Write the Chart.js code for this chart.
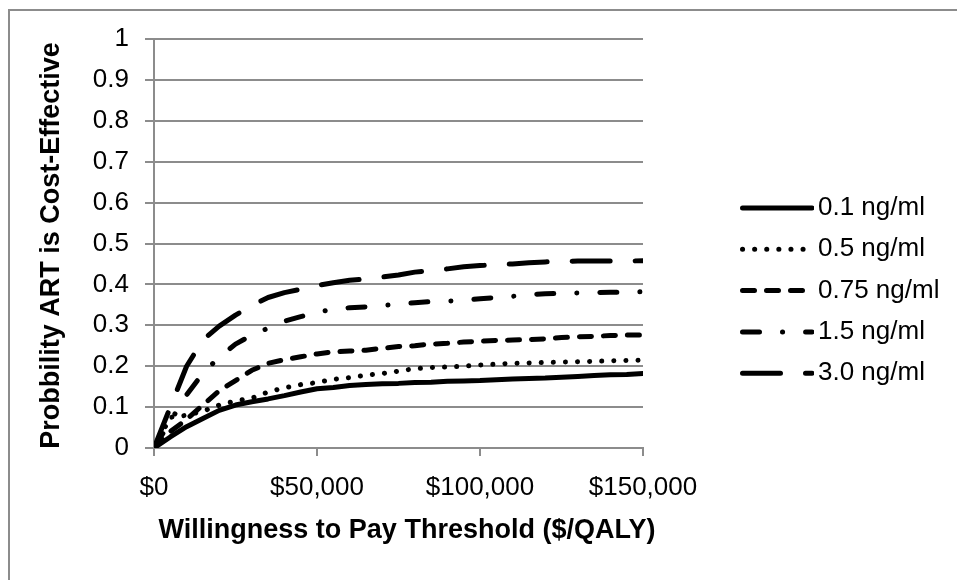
<!DOCTYPE html>
<html>
<head>
<meta charset="utf-8">
<script src="https://cdn.jsdelivr.net/npm/chart.js@4/dist/chart.umd.min.js"></script>
<style>
  html, body { margin: 0; padding: 0; background: #ffffff; }
  #wrap { width: 957px; height: 580px; position: relative; }
</style>
</head>
<body>
<div id="wrap"><canvas id="c" width="957" height="580"></canvas></div>
<script>
// ---- data ----
const wtp = [0,5000,10000,15000,20000,25000,30000,35000,40000,45000,50000,55000,60000,65000,70000,75000,80000,85000,90000,95000,100000,105000,110000,115000,120000,125000,130000,135000,140000,145000,150000];
const s01  = [0,0.027,0.052,0.072,0.092,0.105,0.113,0.120,0.128,0.137,0.145,0.148,0.153,0.155,0.157,0.158,0.160,0.161,0.163,0.164,0.165,0.167,0.169,0.170,0.171,0.173,0.175,0.177,0.179,0.180,0.182];
const s05  = [0,0.075,0.080,0.090,0.105,0.115,0.122,0.137,0.147,0.155,0.160,0.168,0.172,0.178,0.182,0.188,0.194,0.197,0.198,0.200,0.203,0.205,0.207,0.208,0.209,0.210,0.211,0.212,0.213,0.214,0.215];
const s075 = [0,0.040,0.070,0.105,0.140,0.165,0.190,0.207,0.216,0.223,0.230,0.235,0.237,0.239,0.244,0.248,0.250,0.254,0.256,0.259,0.261,0.263,0.264,0.265,0.267,0.270,0.272,0.273,0.275,0.276,0.276];
const s15  = [0,0.065,0.130,0.183,0.222,0.254,0.276,0.293,0.310,0.321,0.332,0.339,0.343,0.345,0.348,0.352,0.355,0.358,0.359,0.361,0.365,0.368,0.371,0.375,0.377,0.378,0.379,0.380,0.381,0.381,0.382];
const s30  = [0,0.100,0.200,0.264,0.298,0.325,0.348,0.368,0.380,0.388,0.397,0.404,0.410,0.413,0.418,0.423,0.430,0.434,0.438,0.443,0.446,0.448,0.450,0.453,0.455,0.456,0.457,0.457,0.457,0.457,0.458];
const seriesNames = ['0.1 ng/ml','0.5 ng/ml','0.75 ng/ml','1.5 ng/ml','3.0 ng/ml'];
const xTickLabels = ['$0','$50,000','$100,000','$150,000'];
const yTickLabels = ['0','0.1','0.2','0.3','0.4','0.5','0.6','0.7','0.8','0.9','1'];
const xTitle = 'Willingness to Pay Threshold ($/QALY)';
const yTitle = 'Probbility ART is Cost-Effective';

// ---- styles ----
const FONT = '"Liberation Sans", Arial, sans-serif';
const GRID = '#8c8c8c';
const LW = 5;
const dashes = [[], [0.1, 12], [12, 12], [17, 23, 0.1, 23], [38, 25]];
const allSeries = [s01, s05, s075, s15, s30];

const datasets = allSeries.map((s, i) => ({
  label: seriesNames[i],
  data: wtp.map((x, j) => ({x: x, y: s[j]})),
  borderColor: '#000000',
  backgroundColor: '#000000',
  borderWidth: LW,
  borderDash: dashes[i],
  borderCapStyle: 'round',
  borderJoinStyle: 'round',
  pointRadius: 0,
  tension: 0,
  fill: false
}));

const decor = {
  id: 'decor',
  beforeDraw(chart) {
    const ctx = chart.ctx;
    ctx.save();
    ctx.strokeStyle = GRID;
    ctx.lineWidth = 2;
    ctx.beginPath();
    ctx.moveTo(9, 580); ctx.lineTo(9, 10); ctx.lineTo(957, 10);
    ctx.stroke();
    ctx.restore();
  },
  afterDraw(chart) {
    const ctx = chart.ctx;
    const ca = chart.chartArea;
    ctx.save();
    ctx.fillStyle = '#000';
    // axis titles
    ctx.font = 'bold 27px ' + FONT;
    ctx.textAlign = 'center';
    ctx.textBaseline = 'middle';
    ctx.fillText(xTitle, 407, 531);
    ctx.save();
    ctx.translate(52, (ca.top + ca.bottom) / 2 + 2);
    ctx.rotate(-Math.PI / 2);
    ctx.fillText(yTitle, 0, 0);
    ctx.restore();
    // legend
    ctx.font = '26px ' + FONT;
    ctx.textAlign = 'left';
    for (let i = 0; i < seriesNames.length; i++) {
      const y = 208 + 41.3 * i;
      ctx.save();
      ctx.beginPath();
      ctx.rect(738, y - 10, 76, 20);
      ctx.clip();
      ctx.strokeStyle = '#000';
      ctx.lineWidth = LW;
      ctx.lineCap = 'round';
      ctx.setLineDash(dashes[i]);
      ctx.beginPath();
      ctx.moveTo(742.5, y);
      ctx.lineTo(812, y);
      ctx.stroke();
      ctx.restore();
      ctx.fillText(seriesNames[i], 818, y);
    }
    ctx.restore();
  }
};

new Chart(document.getElementById('c'), {
  type: 'line',
  data: { datasets: datasets },
  options: {
    responsive: false,
    animation: false,
    layout: { padding: { left: 0, right: 314, top: 39, bottom: 0 } },
    plugins: { legend: { display: false }, tooltip: { enabled: false } },
    scales: {
      x: {
        type: 'linear',
        min: 0, max: 150000,
        afterFit(scale) { scale.height = 132; },
        afterBuildTicks(scale) { scale.ticks = [0, 50000, 100000, 150000].map(v => ({value: v})); },
        ticks: {
          color: '#000',
          font: { family: FONT, size: 26 },
          padding: 16,
          maxRotation: 0,
          autoSkip: false,
          callback: (v, i) => xTickLabels[i]
        },
        grid: { drawOnChartArea: false, drawTicks: true, tickLength: 8, color: GRID, lineWidth: 2 },
        border: { color: GRID, width: 2 }
      },
      y: {
        min: 0, max: 1,
        afterFit(scale) { scale.width = 154; },
        ticks: {
          stepSize: 0.1,
          color: '#000',
          font: { family: FONT, size: 26 },
          padding: 16,
          autoSkip: false,
          callback: (v, i) => yTickLabels[i]
        },
        grid: { drawOnChartArea: true, drawTicks: true, tickLength: 9, color: GRID, lineWidth: 2 },
        border: { color: GRID, width: 2 }
      }
    }
  },
  plugins: [decor]
});
</script>
</body>
</html>
